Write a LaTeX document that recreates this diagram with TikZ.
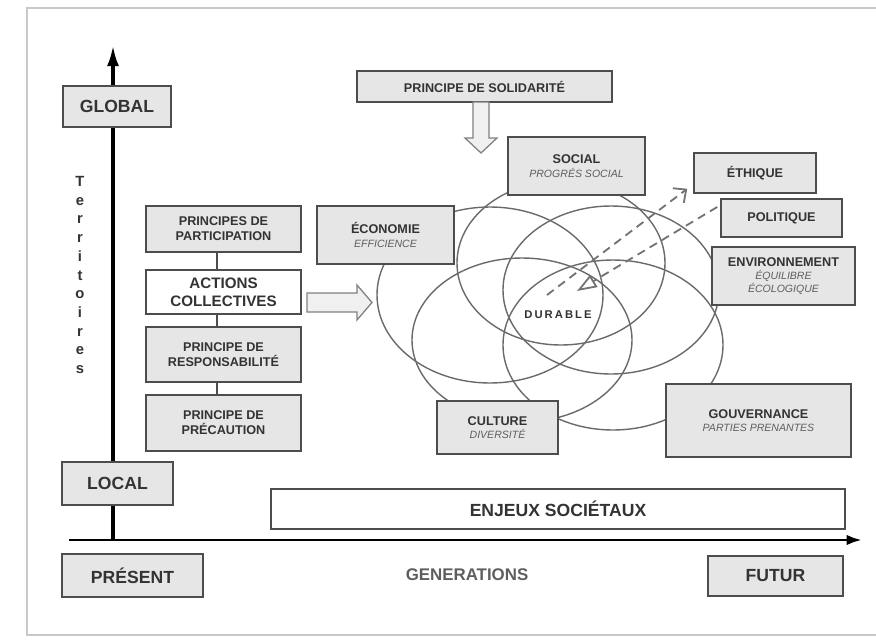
\documentclass[tikz,border=0pt]{standalone}
\usepackage{fontspec}
\setmainfont{Liberation Sans}
\newfontfamily\spacedfont[LetterSpace=18]{Liberation Sans}
\usetikzlibrary{arrows.meta}
\definecolor{boxgray}{HTML}{E6E6E6}
\definecolor{linegray}{HTML}{4D4D4D}
\definecolor{textgray}{HTML}{333333}
\definecolor{subgray}{HTML}{5E5E5E}
\definecolor{ringgray}{HTML}{6A6A6A}
\definecolor{framegray}{HTML}{C8C8C8}
\tikzset{
  wh/.style 2 args={minimum width=#1*0.025cm, minimum height=#2*0.025cm},
  box/.style={draw=linegray, fill=boxgray, line width=1.1pt, inner sep=0pt,
    align=center, text=textgray, font=\bfseries\fontsize{9}{10.5}\selectfont},
  bigbox/.style={box, font=\bfseries\fontsize{12.5}{14}\selectfont},
  ring/.style={draw=ringgray, line width=1pt},
  link/.style={draw=linegray, line width=1.1pt},
  hollow/.style={draw=gray, fill=gray!12, line width=0.9pt},
  dashline/.style={draw=gray!90!black, line width=1.3pt, dash pattern=on 6pt off 4pt}
}
\def\sub#1{\\[-1pt]{\mdseries\itshape\color{subgray}\fontsize{7.5}{9}\selectfont #1}}

\begin{document}
\begin{tikzpicture}[x=0.025cm, y=-0.025cm]
\useasboundingbox (0,0) rectangle (876,640);
% frame
\draw[framegray, line width=1.2pt] (876,8) -- (27,8) -- (27,635) -- (876,635);

% the five rings
\foreach \cx/\cy/\rx/\ry in {490/295/113/88, 561/263/104/82, 611/290/108/84,
                             522/340/110/82, 613/345/110/85}
  \draw[ring] (\cx,\cy) ellipse [x radius=\rx, y radius=\ry];

% axes
\coordinate (origin) at (113,540);
\coordinate (ytop) at (113,45);
\coordinate (xleft) at (69,540);
\coordinate (xright) at (862,540);
\draw[line width=2.6pt, -{Latex[length=15pt,width=8.5pt]}] (origin) -- (ytop);
\draw[line width=2pt, -{Latex[length=11pt,width=7.5pt]}] (xleft) -- (xright);

\node[bigbox, wh={108}{41}] (global) at (117,106.5) {GLOBAL};
\node[bigbox, wh={111}{43}] (local) at (117.5,483.5) {LOCAL};
\node[bigbox, wh={141}{43}] (present) at (132.5,575.5) {PRÉSENT};
\node[bigbox, wh={135}{40}] (futur) at (775.5,576) {FUTUR};
\node[bigbox, fill=white, wh={574}{40}] (enjeux) at (558,509) {ENJEUX SOCIÉTAUX};
\node[text=subgray, font=\bfseries\fontsize{12}{14}\selectfont] (generations) at (467,575) {GENERATIONS};
\node[align=center, text=textgray, font=\bfseries\fontsize{10.5}{13.3}\selectfont] (territoires) at (80,275)
  {T\\e\\r\\r\\i\\t\\o\\i\\r\\e\\s};

% principles
\node[box, wh={155}{46}] (particip) at (223.5,229) {PRINCIPES DE\\PARTICIPATION};
\node[box, fill=white, wh={155}{44}, font=\bfseries\fontsize{10.8}{12.5}\selectfont] (actions) at (223.5,292) {ACTIONS\\COLLECTIVES};
\node[box, wh={155}{55}] (respons) at (223.5,354.5) {PRINCIPE DE\\RESPONSABILITÉ};
\node[box, wh={155}{56}] (precaution) at (223.5,423) {PRINCIPE DE\\PRÉCAUTION};
\foreach \a/\b in {particip/actions, actions/respons, respons/precaution}
  \draw[link] ([xshift=-0.16cm]\a.south) -- ([xshift=-0.16cm]\b.north);

\node[box, wh={255}{31}] (solidarite) at (484.5,86.5) {PRINCIPE DE SOLIDARITÉ};

% pillars
\node[box, wh={137}{58}] (social) at (576.5,166) {SOCIAL\sub{PROGRÉS SOCIAL}};
\node[box, wh={137}{58}] (economie) at (385.5,235) {ÉCONOMIE\sub{EFFICIENCE}};
\node[box, wh={122}{40}] (ethique) at (755,173) {ÉTHIQUE};
\node[box, wh={121}{38}] (politique) at (781.5,218) {POLITIQUE};
\node[box, wh={143}{58}] (environ) at (783.5,276) {ENVIRONNEMENT\sub{ÉQUILIBRE}\sub{ÉCOLOGIQUE}};
\node[box, wh={121}{53}] (culture) at (497.5,427.5) {CULTURE\sub{DIVERSITÉ}};
\node[box, wh={185}{73}] (gouvernance) at (758.5,420.5) {GOUVERNANCE\sub{PARTIES PRENANTES}};
\node[text=textgray, font=\spacedfont\bfseries\fontsize{8}{9}\selectfont] (durable) at (558,315) {DURABLE};

% hollow arrows
\draw[hollow] (473,102) -- (473,138) -- (465,138) -- (481,153) -- (497,138) -- (489,138) -- (489,102) -- cycle;
\draw[hollow] (307,293) -- (357,293) -- (357,285) -- (372,302.5) -- (357,320) -- (357,312) -- (307,312) -- cycle;

% dashed links
\coordinate (core) at (547,295);
\coordinate (coretip) at (577,291);
\draw[dashline, -{Straight Barb[length=7pt,width=13pt,line width=1.3pt]}] (core) -- ([shift={(-6,-5)}]ethique.south west);
\draw[dashline, -{Triangle[open,length=14pt,width=10pt,line width=1.3pt]}] ([shift={(-3,-11)}]politique.west) -- (coretip);
\end{tikzpicture}
\end{document}
